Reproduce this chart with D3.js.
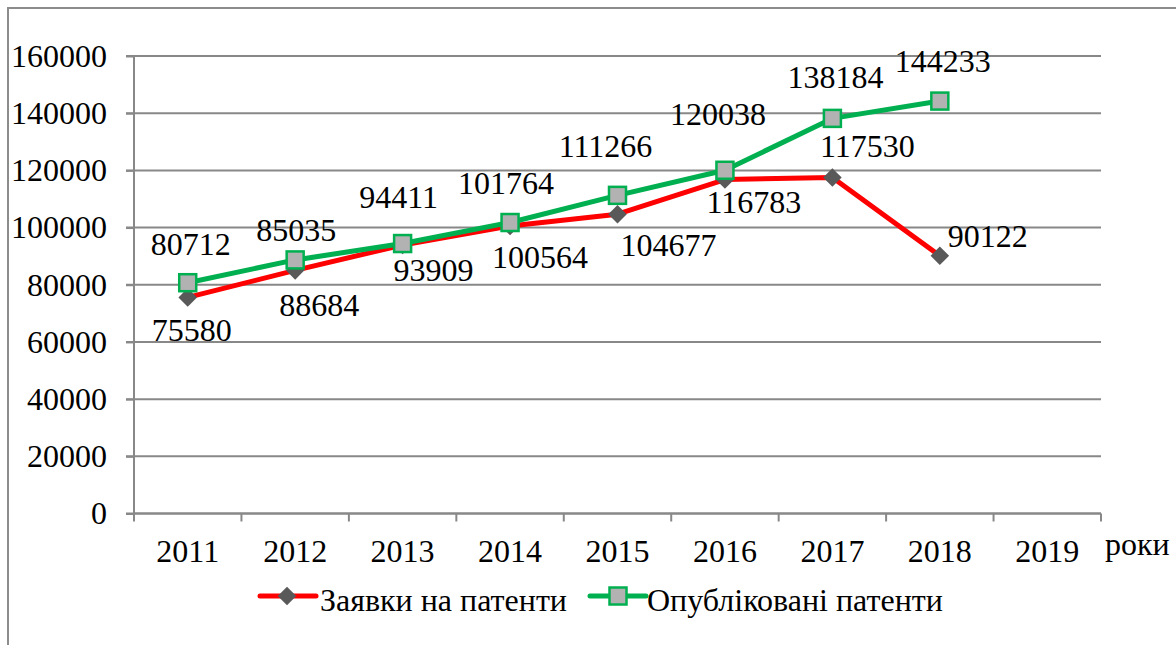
<!DOCTYPE html>
<html>
<head>
<meta charset="utf-8">
<script src="https://cdn.jsdelivr.net/npm/d3@7"></script>
<style>
  body { margin: 0; background: #fff; }
  svg { display: block; }
  svg text { font-family: "Liberation Serif", "Times New Roman", serif; }
</style>
</head>
<body>
<div id="chart"></div>
<script>
// Patent applications vs published patents, 2011-2019

const years = ["2011", "2012", "2013", "2014", "2015", "2016", "2017", "2018", "2019"];
const applications = [75580, 85035, 93909, 100564, 104677, 116783, 117530, 90122];
const published = [80712, 88684, 94411, 101764, 111266, 120038, 138184, 144233];
// label texts as printed on the source chart (2012 pair is swapped there)
const applicationLabels = ["75580", "88684", "93909", "100564", "104677", "116783", "117530", "90122"];
const publishedLabels = ["80712", "85035", "94411", "101764", "111266", "120038", "138184", "144233"];
const yTicks = [0, 20000, 40000, 60000, 80000, 100000, 120000, 140000, 160000];
const seriesNames = ["Заявки на патенти", "Опубліковані патенти"];

// label nudges relative to their point [dx, dy of baseline]
const applicationLabelOffsets = [[4, 44], [24, 46], [31, 36], [30, 42], [51, 42], [29, 33], [35, -20], [48, -9]];
const publishedLabelOffsets = [[3, -28], [1, -19], [-4, -36], [-4, -29], [-12, -38], [-7, -45], [3, -30], [3, -29]];

const width = 1176, height = 645;
const margin = { top: 56, right: 75, bottom: 131.5, left: 134 };
const fontSize = 32;

const svg = d3.select("#chart").append("svg")
    .attr("width", width)
    .attr("height", height);

// outer chart border (only top and left visible in the source)
svg.append("rect")
    .attr("x", 8).attr("y", 8)
    .attr("width", width + 20).attr("height", height + 20)
    .attr("fill", "none")
    .attr("stroke", "#8c8c8c")
    .attr("stroke-width", 2);

const x = d3.scaleBand()
    .domain(years)
    .range([margin.left, width - margin.right])
    .padding(0);

const y = d3.scaleLinear()
    .domain([0, 160000])
    .range([height - margin.bottom, margin.top]);

const gridColor = "#888";

// Gridlines
svg.append("g")
    .selectAll("line")
    .data(yTicks)
    .enter()
    .append("line")
    .attr("x1", margin.left - 8)
    .attr("x2", width - margin.right)
    .attr("y1", d => y(d))
    .attr("y2", d => y(d))
    .attr("stroke", gridColor)
    .attr("stroke-width", 2);

// Y axis
const yAxis = svg.append("g")
    .attr("transform", `translate(${margin.left},0)`)
    .call(d3.axisLeft(y).tickValues(yTicks).tickSize(8).tickPadding(19).tickFormat(d3.format("d")));
yAxis.attr("font-family", null);
yAxis.selectAll("path, line").attr("stroke", gridColor).attr("stroke-width", 2);
yAxis.select(".domain").attr("d", `M0,${y(160000)}V${y(0)}`);
yAxis.selectAll("text")
    .attr("font-size", fontSize)
    .attr("fill", "#000")
    .attr("dy", "0.32em");

// X axis labels
const xAxis = svg.append("g")
    .attr("transform", `translate(0,${y(0)})`)
    .call(d3.axisBottom(x).tickSize(0).tickPadding(26));
xAxis.attr("font-family", null);
xAxis.select(".domain").remove();
xAxis.selectAll("text")
    .attr("font-size", fontSize)
    .attr("fill", "#000");

// X axis line + boundary ticks
const bounds = years.map(d => x(d)).concat([x(years[years.length - 1]) + x.bandwidth()]);
svg.append("line")
    .attr("x1", x.range()[0]).attr("x2", x.range()[1])
    .attr("y1", y(0)).attr("y2", y(0))
    .attr("stroke", gridColor).attr("stroke-width", 2);
svg.append("g")
    .selectAll("line")
    .data(bounds)
    .enter()
    .append("line")
    .attr("x1", d => d).attr("x2", d => d)
    .attr("y1", y(0)).attr("y2", y(0) + 8)
    .attr("stroke", gridColor).attr("stroke-width", 2);

svg.append("text")
    .attr("x", 1105)
    .attr("y", 555)
    .attr("font-size", fontSize)
    .attr("fill", "#000")
    .text("роки");

const cx = i => x(years[i]) + x.bandwidth() / 2;
const line = d3.line().x((d, i) => cx(i)).y(d => y(d));

const red = "#ff0000", green = "#00b050";
const diamond = d3.symbol().type(d3.symbolDiamond2).size(220);

// Applications series
svg.append("path")
    .datum(applications)
    .attr("d", line)
    .attr("fill", "none")
    .attr("stroke", red)
    .attr("stroke-width", 5)
    .attr("stroke-linejoin", "round");

svg.append("g")
    .selectAll("path")
    .data(applications)
    .enter()
    .append("path")
    .attr("d", diamond)
    .attr("transform", (d, i) => `translate(${cx(i)},${y(d)})`)
    .attr("fill", "#595959");

// Published series
svg.append("path")
    .datum(published)
    .attr("d", line)
    .attr("fill", "none")
    .attr("stroke", green)
    .attr("stroke-width", 5)
    .attr("stroke-linejoin", "round");

const sq = 17;
svg.append("g")
    .selectAll("rect")
    .data(published)
    .enter()
    .append("rect")
    .attr("x", (d, i) => cx(i) - sq / 2)
    .attr("y", d => y(d) - sq / 2)
    .attr("width", sq)
    .attr("height", sq)
    .attr("fill", "#b2b2b2")
    .attr("stroke", green)
    .attr("stroke-width", 2.5);

// Data labels
function addLabels(values, texts, offsets) {
    svg.append("g")
        .selectAll("text")
        .data(values)
        .enter()
        .append("text")
        .attr("x", (d, i) => cx(i) + offsets[i][0])
        .attr("y", (d, i) => y(d) + offsets[i][1])
        .attr("text-anchor", "middle")
        .attr("font-size", fontSize)
        .attr("fill", "#000")
        .text((d, i) => texts[i]);
}
addLabels(applications, applicationLabels, applicationLabelOffsets);
addLabels(published, publishedLabels, publishedLabelOffsets);

// Legend
const legendY = 596;
const legend = svg.append("g");
const items = [
    { name: seriesNames[0], color: red, x0: 260, tx: 320 },
    { name: seriesNames[1], color: green, x0: 590, tx: 647 }
];
items.forEach((it, k) => {
    legend.append("line")
        .attr("x1", it.x0).attr("x2", it.x0 + 56)
        .attr("y1", legendY).attr("y2", legendY)
        .attr("stroke", it.color).attr("stroke-width", 5)
        .attr("stroke-linecap", "round");
    if (k === 0) {
        legend.append("path")
            .attr("d", diamond)
            .attr("transform", `translate(${it.x0 + 27},${legendY})`)
            .attr("fill", "#595959");
    } else {
        legend.append("rect")
            .attr("x", it.x0 + 28 - sq / 2).attr("y", legendY - sq / 2)
            .attr("width", sq).attr("height", sq)
            .attr("fill", "#b2b2b2")
            .attr("stroke", green).attr("stroke-width", 2.5);
    }
    legend.append("text")
        .attr("x", it.tx)
        .attr("y", legendY + 15)
        .attr("font-size", fontSize)
        .attr("fill", "#000")
        .text(it.name);
});
</script>
</body>
</html>
